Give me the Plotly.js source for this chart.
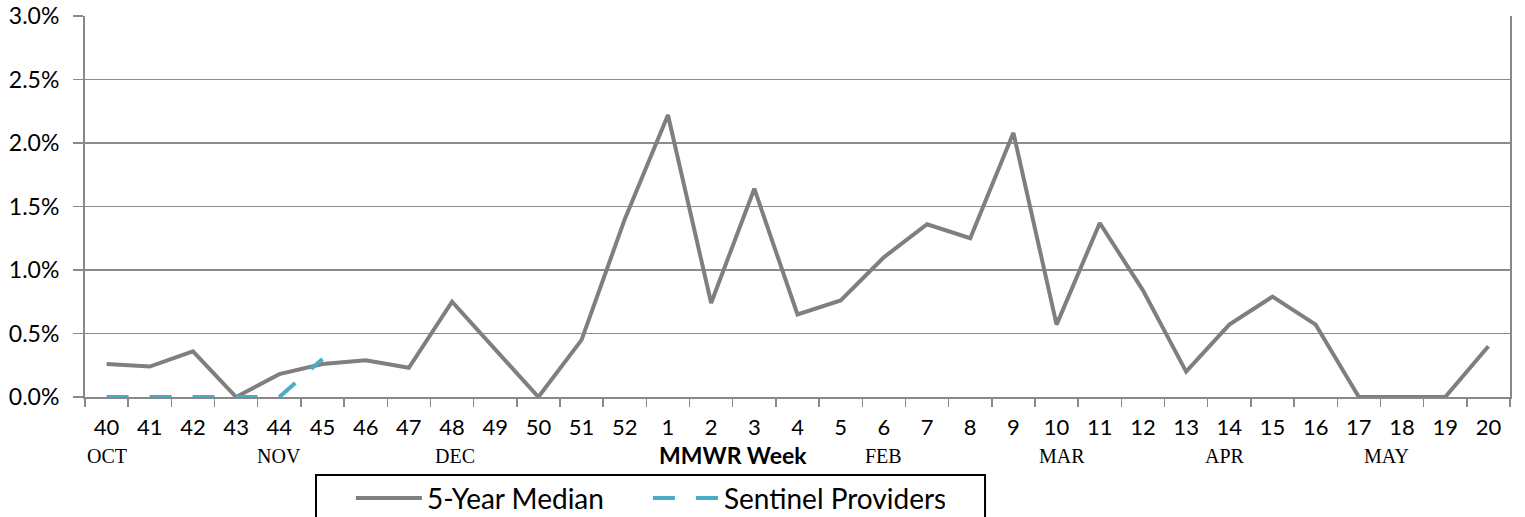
<!DOCTYPE html>
<html>
<head>
<meta charset="utf-8">
<script src="https://cdn.plot.ly/plotly-3.0.1.min.js"></script>
<style>
html,body{margin:0;padding:0;background:#fff;}
#chart{width:1525px;height:517px;}
</style>
</head>
<body>
<div id="chart"></div>
<script>
// MMWR weeks (categories)
const weeks = ["40","41","42","43","44","45","46","47","48","49","50","51","52",
  "1","2","3","4","5","6","7","8","9","10","11","12","13","14","15","16","17","18","19","20"];

// 5-Year Median (% of visits)
const medianValues = [0.26,0.24,0.36,0.00,0.18,0.26,0.29,0.23,0.75,0.38,0.00,0.45,1.40,
  2.22,0.74,1.64,0.65,0.76,1.10,1.36,1.25,2.08,0.57,1.37,0.84,0.20,0.57,0.79,0.57,0.00,0.00,0.00,0.40];

// Sentinel Providers (% of visits) – reported weeks only
const sentinelWeeks = ["40","41","42","43","44","45"];
const sentinelValues = [0.00,0.00,0.00,0.00,0.00,0.30];

// Month labels under the week axis
const monthLabels = ["OCT","NOV","DEC","FEB","MAR","APR","MAY"];
const monthWeeks  = ["40","44","48","6","10","14","18"];
const monthShift  = [0,0,3,0,5,-4,-16];

const yTicks = [0,0.5,1.0,1.5,2.0,2.5,3.0];
const yTickText = ["0.0%","0.5%","1.0%","1.5%","2.0%","2.5%","3.0%"];

const sans = "Lato, 'Open Sans', sans-serif";
const serif = "'Liberation Serif', 'DejaVu Serif', serif";

const traces = [
  {
    x: weeks, y: medianValues, type: "scatter", mode: "lines",
    name: "5-Year Median",
    line: {color: "#7f7f7f", width: 4}
  },
  {
    x: sentinelWeeks, y: sentinelValues, type: "scatter", mode: "lines",
    name: "Sentinel Providers",
    line: {color: "#4bacc6", width: 4, dash: "22px,21px"}
  }
];

// category axis: annotation positions given as category index
const annotations = monthLabels.map((m, i) => ({
  x: weeks.indexOf(monthWeeks[i]), xref: "x", y: 0, yref: "paper",
  yshift: -59, xshift: monthShift[i], yanchor: "middle",
  text: m, showarrow: false,
  font: {family: serif, size: 20, color: "#000"}
}));
annotations.push({
  x: weeks.indexOf("2"), xref: "x", y: 0, yref: "paper", yshift: -58, xshift: 22, yanchor: "middle",
  text: "<b>MMWR Week</b>", showarrow: false,
  font: {family: sans, size: 23, color: "#000"}
});

const layout = {
  width: 1525, height: 517,
  margin: {l: 85, r: 15, t: 16, b: 120, autoexpand: false},
  paper_bgcolor: "#fff", plot_bgcolor: "#fff",
  showlegend: true,
  legend: {
    orientation: "h", x: 0.1866, xanchor: "left", y: -0.2, yanchor: "top",
    borderwidth: 0, bgcolor: "rgba(0,0,0,0)",
    font: {family: sans, size: 28, color: "#000"},
    itemwidth: 66, entrywidth: 216
  },
  // legend frame (extends below the page like the reference)
  shapes: [{
    type: "rect", xref: "paper", yref: "paper",
    x0: 0.1621, x1: 0.6316, y0: -0.2047, y1: -0.40,
    line: {color: "#000", width: 2}, fillcolor: "rgba(0,0,0,0)", layer: "above"
  }],
  xaxis: {
    type: "category", categoryorder: "array", categoryarray: weeks,
    range: [-0.5, weeks.length - 0.5],
    tickson: "boundaries", ticks: "outside", ticklen: 8, tickwidth: 1.5, tickcolor: "#888",
    showline: true, linecolor: "#888", linewidth: 2,
    showgrid: false, zeroline: false,
    tickfont: {family: sans, size: 22, color: "#000"},
    ticklabelstandoff: 10
  },
  yaxis: {
    range: [0, 3.0], tickvals: yTicks, ticktext: yTickText,
    ticks: "outside", ticklen: 10, tickwidth: 1.5, tickcolor: "#888",
    showline: true, linecolor: "#888", linewidth: 2, mirror: true,
    showgrid: true, gridcolor: "#8c8c8c", gridwidth: 1.5,
    zeroline: false,
    tickfont: {family: sans, size: 23, color: "#000"},
    ticklabelstandoff: 9
  },
  annotations: annotations
};

Plotly.newPlot("chart", traces, layout, {displayModeBar: false, staticPlot: true});
</script>
</body>
</html>
